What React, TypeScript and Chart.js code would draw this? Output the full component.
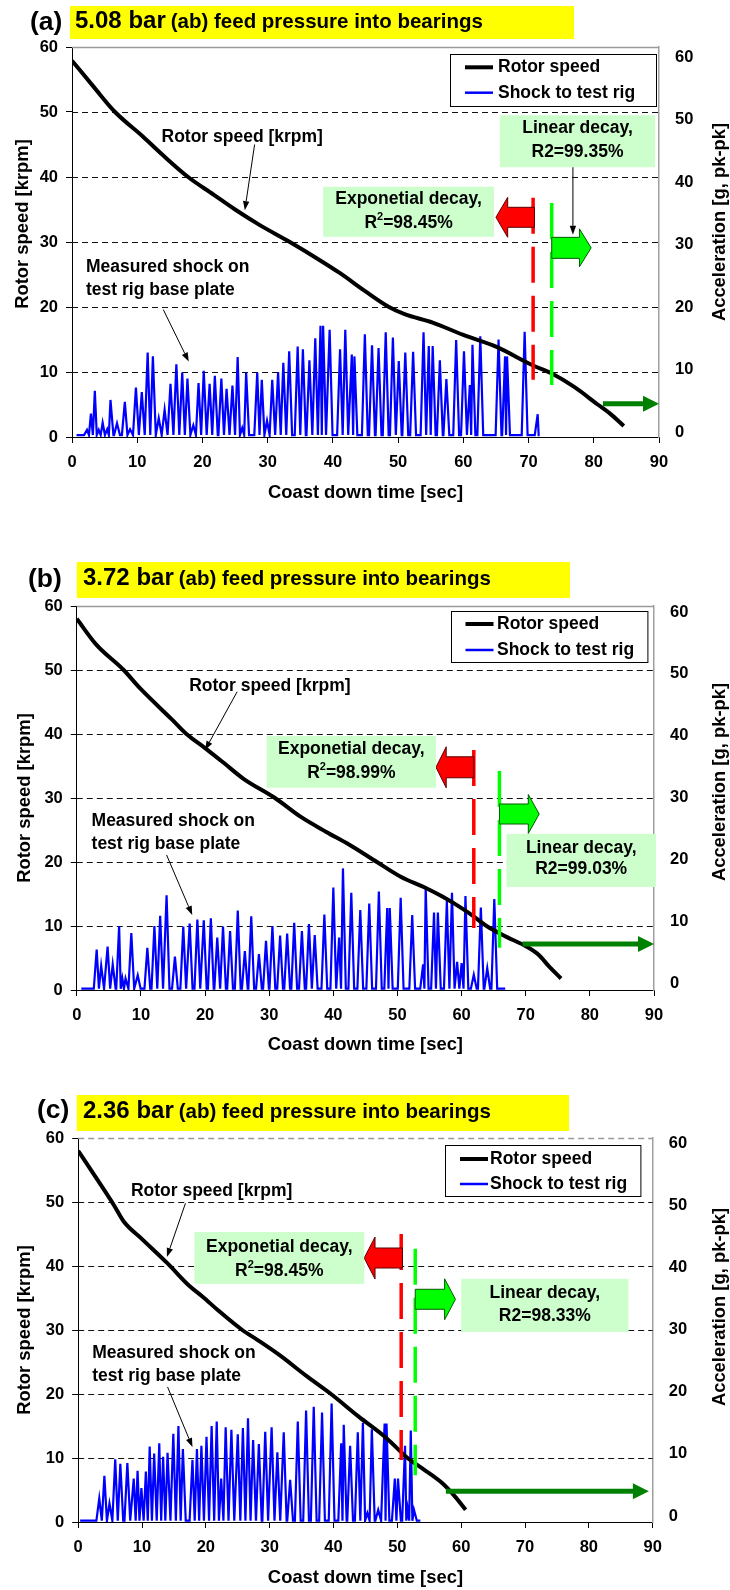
import React, { useEffect, useRef } from "react";
import { Chart, registerables } from "chart.js";
Chart.register(...registerables);

const FONT = "'Liberation Sans', Arial, Helvetica, sans-serif";

// ---------------- Axis ticks ----------------
const xTickValues = [0, 10, 20, 30, 40, 50, 60, 70, 80, 90];
const yTickValues = [0, 10, 20, 30, 40, 50, 60];

// ---------------- Text ----------------
const xAxisTitle = "Coast down time [sec]";
const yAxisTitle = "Rotor speed [krpm]";
const y1AxisTitle = "Acceleration [g, pk-pk]";
const legendLabels = ["Rotor speed", "Shock to test rig"];
const rotorNote = "Rotor speed [krpm]";
const shockNote = ["Measured shock on", "test rig base plate"];
const expNote = "Exponetial decay,";
const linNote = "Linear decay,";
const titleRest = "(ab) feed pressure into bearings";

// ---------------- Panel (a) 5.08 bar ----------------
const pressureA = "5.08 bar";
const rotorTimeA = [0, 3.3, 6.6, 10.9, 14, 17.8, 21.7, 25, 28.8, 33.4, 38, 41.1, 45, 48.6, 51, 55.3, 60, 65, 70.7, 73.5, 77, 80.6, 82.5, 84.6];
const rotorSpeedA = [57.9, 53.9, 50, 46.2, 43.3, 40, 37.3, 35, 32.6, 30, 27.2, 25.2, 22.4, 20, 18.9, 17.6, 15.7, 13.9, 11, 9.8, 7.7, 5, 3.6, 1.7];
const shockPeakTimeA = [2.3, 2.9, 3.5, 4.1, 4.7, 5.4, 5.9, 6.9, 8.1, 8.9, 9.8, 10.7, 11.6, 12.4, 13.3, 14.2, 15.1, 16.0, 16.9, 17.7, 18.6, 19.4, 20.2, 21.1, 21.9, 22.9, 23.7, 24.6, 25.4, 26.1, 26.7, 28.4, 29.1, 29.9, 30.7, 31.6, 32.4, 33.3, 34.6, 35.4, 36.4, 37.3, 38.1, 38.5, 39.5, 41.1, 41.9, 42.9, 43.3, 44.9, 46.0, 47.0, 48.1, 49.2, 50.1, 51.1, 52.3, 53.9, 54.7, 55.3, 56.4, 57.4, 58.9, 60.1, 61.0, 61.4, 62.6, 65.4, 66.4, 66.7, 69.4, 71.4];
const shockPeakValA = [1.1, 3.6, 7.1, 1.1, 2.2, 1.2, 5.7, 2.1, 5.4, 1.2, 7.6, 6.9, 13, 12.4, 2.9, 4.2, 8.2, 11.2, 9.9, 9.0, 1.8, 8.3, 10.2, 8.2, 9.4, 9.0, 7.4, 7.9, 12.3, 1.4, 9.9, 9.9, 8.8, 2.5, 8.8, 10, 11.4, 13.2, 13.9, 13.5, 11.8, 15.2, 17.1, 17.1, 16.5, 13.5, 16.5, 12.7, 12.4, 15.8, 14.1, 13.7, 16.1, 15.3, 11.7, 13.0, 13.1, 16.1, 14.0, 14.0, 11.8, 8.9, 14.9, 13.2, 8.0, 14.2, 15.5, 15.0, 12.4, 12.4, 16.2, 3.5];
const shockSpanA = [0.7, 71.7];
const shockBaseA = 0.3;
const expR2A = "98.45%";
const linR2A = "99.35%";

// ---------------- Panel (b) 3.72 bar ----------------
const pressureB = "3.72 bar";
const rotorTimeB = [0, 3, 7.3, 10, 14.9, 17.1, 20, 22.9, 26, 30.9, 35, 38.9, 42.5, 46.8, 50.5, 54.5, 57, 60, 61.6, 63.9, 67, 70.1, 72, 73.7, 75.5];
const rotorSpeedB = [58, 54, 50, 47, 42.2, 40, 37.8, 35.5, 33, 30, 27, 24.7, 22.7, 20, 17.7, 15.9, 14.6, 12.8, 11.7, 10, 8.3, 6.8, 5.5, 3.6, 1.8];
const shockPeakTimeB = [3.1, 3.8, 4.8, 5.6, 6.6, 7.1, 7.6, 8.5, 9.5, 11.0, 12.1, 13.0, 14.0, 15.3, 16.6, 17.6, 18.8, 19.8, 20.9, 21.9, 22.8, 23.9, 25.1, 26.2, 27.2, 28.4, 29.5, 30.5, 31.7, 32.8, 33.9, 35.1, 36.2, 37.1, 38.6, 40.0, 40.9, 41.5, 42.8, 44.2, 45.6, 47.1, 48.4, 48.8, 50.5, 52.3, 54.0, 54.4, 55.7, 56.3, 57.7, 58.5, 59.3, 60.0, 60.6, 61.9, 63.0, 64.0, 65.1];
const shockPeakValB = [6.3, 3.8, 6.8, 4.0, 10, 1.8, 1.8, 8.9, 2.3, 6.6, 10, 11.6, 14.8, 5.2, 9.9, 10.4, 11, 10.9, 11.2, 8.2, 9.9, 9.2, 12.4, 6.1, 11.5, 5.6, 7.7, 10, 8.5, 8.8, 10.5, 9.2, 10.3, 8.6, 11.8, 16, 8.2, 19, 15.2, 12.5, 13.5, 15.4, 12.8, 12.8, 14.4, 11.7, 4, 16, 12.1, 12.1, 13.9, 15.2, 4.4, 4.2, 14.7, 2.4, 12.9, 3.4, 14.2];
const shockSpanB = [0.7, 66.8];
const shockBaseB = 0.2;
const expR2B = "98.99%";
const linR2B = "99.03%";

// ---------------- Panel (c) 2.36 bar ----------------
const pressureC = "2.36 bar";
const rotorTimeC = [0, 3, 5.6, 7.1, 10, 14, 17.3, 19.5, 22, 25.7, 28, 31.5, 35.9, 39.6, 43.9, 48.3, 51.6, 54, 57.1, 59, 60.7];
const rotorSpeedC = [58, 53.5, 49.5, 47, 44.2, 40.4, 37, 35.2, 33, 30, 28.5, 26.1, 22.7, 20, 16.5, 13.1, 10, 8.3, 6, 4, 1.9];
const shockPeakTimeC = [3.3, 4.1, 4.9, 5.8, 6.6, 7.7, 8.7, 9.3, 9.9, 10.6, 11.2, 11.9, 12.7, 13.3, 14.0, 14.9, 15.7, 16.4, 17.9, 18.6, 19.3, 20.1, 20.9, 21.7, 22.4, 23.1, 24.0, 25.0, 25.8, 26.6, 27.4, 28.3, 29.3, 30.3, 31.2, 32.2, 33.2, 34.4, 35.7, 36.9, 38.2, 39.7, 41.2, 41.6, 42.6, 43.8, 44.6, 45.3, 46.0, 47.0, 48.0, 48.3, 49.6, 50.1, 51.2, 51.6, 52.1, 52.6];
const shockPeakValC = [3.7, 7.2, 2.9, 9.8, 9.1, 9.2, 6.8, 8.0, 5.3, 7.9, 11.8, 10.7, 12.3, 10.2, 10.8, 13.8, 15.0, 11.4, 9.7, 11.4, 11.9, 13.3, 15.0, 15.7, 6.8, 14.8, 14.4, 13.7, 14.7, 16.2, 12.8, 12.2, 14.1, 14.8, 10.9, 14.0, 6.6, 15.7, 17.4, 18.0, 17.1, 18.5, 12.3, 15.2, 11.9, 14.0, 15.5, 1.4, 14.5, 1.9, 15.4, 15.4, 6.8, 6.8, 11.9, 2.1, 14.3, 1.9];
const shockSpanC = [0.3, 53.6];
const shockBaseC = 0.2;
const expR2C = "98.45%";
const linR2C = "98.33%";

// ---------------- Build helpers ----------------
function buildShock(times: number[], vals: number[], span: number[], base: number) {
  const pts: { x: number; y: number }[] = [{ x: span[0], y: base }];
  for (let i = 0; i < times.length; i++) {
    const prev = i > 0 ? times[i - 1] : span[0];
    const next = i < times.length - 1 ? times[i + 1] : span[1];
    const wl = Math.min(0.45, (times[i] - prev) / 2);
    const wr = Math.min(0.45, (next - times[i]) / 2);
    pts.push({ x: times[i] - wl, y: base }, { x: times[i], y: vals[i] }, { x: times[i] + wr, y: base });
  }
  pts.push({ x: span[1], y: base });
  return pts;
}
function buildLine(t: number[], v: number[]) {
  return t.map((x, i) => ({ x, y: v[i] }));
}

// ---------------- Panel layouts (positions only) ----------------
const panels = [
  {
    key: "a", label: "(a)", pressure: pressureA, top: 0, height: 520,
    area: { left: 72, right: 659, top: 47, bottom: 437 },
    y1Range: [-0.8, 61.6], topDashed: false,
    titleBox: [70, 6, 574, 39], labelPos: [30, 29.5], mainPos: [75, 27.5],
    legend: { box: [450, 54, 656, 106], lx: [465, 493], ly: [67.3, 92.7], tx: 498 },
    xTitleY: 493, yTitle: [23, 224], y1Title: [720, 222],
    rotorT: rotorTimeA, rotorV: rotorSpeedA,
    shock: [shockPeakTimeA, shockPeakValA, shockSpanA, shockBaseA],
    expR2: expR2A, linR2: linR2A,
    ann: {
      rotorLabel: [26.1, 46.2], rotorArrow: [28.0, 45.0, 26.5, 34.9],
      shockLabel: [2.15, 26.2, 22.6], shockArrow: [14.0, 19.6, 17.9, 11.6],
      expBox: [38.5, 38.5, 64.7, 30.8], expLines: [36.6, 32.9],
      linBox: [65.6, 49.5, 89.4, 41.5], linLines: [47.5, 43.8],
      linArrow: [76.8, 41.5, 76.8, 31.1],
      red: { tip: 65.0, head: 66.8, end: 70.9, v: 33.8, hh: 20, sh: 10 },
      green: { tip: 79.6, head: 77.8, end: 73.55, v: 29.1, hh: 19, sh: 10.5 },
      redDash: [70.7, 36.8, 8.8], greenDash: [73.55, 36, 8],
      fall: [81.4, 90, 5.1],
    },
  },
  {
    key: "b", label: "(b)", pressure: pressureB, top: 520, height: 535,
    area: { left: 76.8, right: 654, top: 86, bottom: 470 },
    y1Range: [-1.13, 60.97], topDashed: false,
    titleBox: [76.8, 42, 570, 78], labelPos: [28, 66.5], mainPos: [83, 65],
    legend: { box: [450.6, 91, 647, 142], lx: [465.5, 493.5], ly: [104, 130], tx: 497 },
    xTitleY: 525, yTitle: [25, 278], y1Title: [720, 262],
    rotorT: rotorTimeB, rotorV: rotorSpeedB,
    shock: [shockPeakTimeB, shockPeakValB, shockSpanB, shockBaseB],
    expR2: expR2B, linR2: linR2B,
    ann: {
      rotorLabel: [30.1, 47.5], rotorArrow: [25.0, 46.6, 20.0, 37.5],
      shockLabel: [2.3, 26.4, 22.8], shockArrow: [14.0, 21.1, 18.0, 11.7],
      expBox: [29.6, 39.7, 56.0, 31.6], expLines: [37.7, 33.9],
      linBox: [67.0, 24.4, 90.3, 16.1], linLines: [22.2, 18.9],
      linArrow: null,
      red: { tip: 56.0, head: 57.6, end: 61.9, v: 34.8, hh: 20.5, sh: 10.5 },
      green: { tip: 72.1, head: 70.4, end: 65.9, v: 27.5, hh: 19.5, sh: 10 },
      redDash: [61.9, 37.5, 9.7], greenDash: [65.9, 34.2, 6.6],
      fall: [69.5, 90, 7.2],
    },
  },
  {
    key: "c", label: "(c)", pressure: pressureC, top: 1055, height: 535,
    area: { left: 78.2, right: 652.7, top: 83, bottom: 467 },
    y1Range: [-0.97, 60.8], topDashed: true,
    titleBox: [76.8, 40, 569, 76], labelPos: [37, 62.5], mainPos: [83, 63],
    legend: { box: [444.6, 90, 640, 141], lx: [460, 488], ly: [104, 129], tx: 490 },
    xTitleY: 523, yTitle: [25, 275], y1Title: [720, 252],
    rotorT: rotorTimeC, rotorV: rotorSpeedC,
    shock: [shockPeakTimeC, shockPeakValC, shockSpanC, shockBaseC],
    expR2: expR2C, linR2: linR2C,
    ann: {
      rotorLabel: [20.9, 51.7], rotorArrow: [16.8, 49.8, 13.9, 41.4],
      shockLabel: [2.2, 26.4, 22.8], shockArrow: [14.0, 21.1, 17.9, 11.7],
      expBox: [18.2, 45.3, 44.8, 37.2], expLines: [43.0, 39.2],
      linBox: [60.0, 38.0, 86.2, 29.7], linLines: [35.8, 32.2],
      linArrow: null,
      red: { tip: 44.8, head: 46.5, end: 50.8, v: 41.25, hh: 21, sh: 10 },
      green: { tip: 59.1, head: 57.4, end: 52.8, v: 34.8, hh: 20.5, sh: 10 },
      redDash: [50.6, 45, 9.7], greenDash: [52.8, 42.7, 7.3],
      fall: [57.6, 89.4, 4.8],
    },
  },
];

// ---------------- Drawing helpers ----------------
const f = (size: number, weight = "bold") => `${weight} ${size}px ${FONT}`;

function arrowLine(ctx: CanvasRenderingContext2D, x1: number, y1: number, x2: number, y2: number) {
  const ang = Math.atan2(y2 - y1, x2 - x1);
  const hl = 9, hw = 3.2;
  const bx = x2 - hl * Math.cos(ang), by = y2 - hl * Math.sin(ang);
  ctx.save();
  ctx.strokeStyle = "#000";
  ctx.fillStyle = "#000";
  ctx.lineWidth = 1;
  ctx.beginPath();
  ctx.moveTo(x1, y1);
  ctx.lineTo(bx, by);
  ctx.stroke();
  ctx.beginPath();
  ctx.moveTo(x2, y2);
  ctx.lineTo(bx + hw * Math.sin(ang), by - hw * Math.cos(ang));
  ctx.lineTo(bx - hw * Math.sin(ang), by + hw * Math.cos(ang));
  ctx.closePath();
  ctx.fill();
  ctx.restore();
}

function blockArrow(ctx: CanvasRenderingContext2D, tipX: number, headX: number, endX: number, cy: number, hh: number, sh: number, fill: string, stroke: string) {
  ctx.save();
  ctx.beginPath();
  ctx.moveTo(tipX, cy);
  ctx.lineTo(headX, cy - hh);
  ctx.lineTo(headX, cy - sh);
  ctx.lineTo(endX, cy - sh);
  ctx.lineTo(endX, cy + sh);
  ctx.lineTo(headX, cy + sh);
  ctx.lineTo(headX, cy + hh);
  ctx.closePath();
  ctx.fillStyle = fill;
  ctx.fill();
  ctx.strokeStyle = stroke;
  ctx.lineWidth = 1;
  ctx.stroke();
  ctx.restore();
}

function drawR2(ctx: CanvasRenderingContext2D, cx: number, cy: number, value: string) {
  ctx.save();
  ctx.fillStyle = "#000";
  ctx.textBaseline = "middle";
  ctx.textAlign = "left";
  ctx.font = f(17.5);
  const wR = ctx.measureText("R").width;
  const wRest = ctx.measureText("=" + value).width;
  ctx.font = f(11);
  const w2 = ctx.measureText("2").width;
  let x = cx - (wR + w2 + wRest) / 2;
  ctx.font = f(17.5);
  ctx.fillText("R", x, cy);
  x += wR;
  ctx.font = f(11);
  ctx.fillText("2", x, cy - 6);
  x += w2;
  ctx.font = f(17.5);
  ctx.fillText("=" + value, x, cy);
  ctx.restore();
}

function makeDecor(p: any) {
  return {
    id: "decor" + p.key,
    beforeDatasetsDraw(chart: any) {
      const { ctx, chartArea } = chart;
      const ys = chart.scales.y;
      ctx.save();
      ctx.lineWidth = 1;
      for (const v of yTickValues) {
        if (v === 0) continue;
        const y = Math.round(ys.getPixelForValue(v)) + 0.5;
        if (v === 60) {
          ctx.strokeStyle = "#9a9a9a";
          ctx.lineWidth = 1.5;
          ctx.setLineDash(p.topDashed ? [6, 4] : []);
        } else {
          ctx.strokeStyle = "#111";
          ctx.lineWidth = 1;
          ctx.setLineDash([6, 4]);
        }
        ctx.beginPath();
        ctx.moveTo(chartArea.left, y);
        ctx.lineTo(chartArea.right, y);
        ctx.stroke();
      }
      ctx.restore();
    },
    afterDatasetsDraw(chart: any) {
      const { ctx, chartArea } = chart;
      const xs = chart.scales.x, ys = chart.scales.y;
      const X = (t: number) => xs.getPixelForValue(t);
      const Y = (v: number) => ys.getPixelForValue(v);
      const a = p.ann;

      // dashed vertical separators
      ctx.save();
      ctx.lineWidth = 3.5;
      ctx.setLineDash([36, 13]);
      ctx.strokeStyle = "#FF0000";
      ctx.beginPath();
      ctx.moveTo(X(a.redDash[0]), Y(a.redDash[1]));
      ctx.lineTo(X(a.redDash[0]), Y(a.redDash[2]));
      ctx.stroke();
      ctx.strokeStyle = "#00FF00";
      ctx.beginPath();
      ctx.moveTo(X(a.greenDash[0]), Y(a.greenDash[1]));
      ctx.lineTo(X(a.greenDash[0]), Y(a.greenDash[2]));
      ctx.stroke();
      ctx.restore();

      // block arrows
      blockArrow(ctx, X(a.red.tip), X(a.red.head), X(a.red.end), Y(a.red.v), a.red.hh, a.red.sh, "#FF0000", "#5a0000");
      blockArrow(ctx, X(a.green.tip), X(a.green.head), X(a.green.end), Y(a.green.v), a.green.hh, a.green.sh, "#00FF00", "#005a00");

      // dark green horizontal arrow
      {
        const x1 = X(a.fall[0]), x2 = X(a.fall[1]), y = Y(a.fall[2]);
        ctx.save();
        ctx.strokeStyle = "#008000";
        ctx.fillStyle = "#008000";
        ctx.lineWidth = 5;
        ctx.beginPath();
        ctx.moveTo(x1, y);
        ctx.lineTo(x2 - 14, y);
        ctx.stroke();
        ctx.beginPath();
        ctx.moveTo(x2, y);
        ctx.lineTo(x2 - 16, y - 8);
        ctx.lineTo(x2 - 16, y + 8);
        ctx.closePath();
        ctx.fill();
        ctx.restore();
      }

      // green note boxes
      ctx.save();
      ctx.fillStyle = "#CCFFCC";
      const eb = a.expBox, lb = a.linBox;
      ctx.fillRect(X(eb[0]), Y(eb[1]), X(eb[2]) - X(eb[0]), Y(eb[3]) - Y(eb[1]));
      ctx.fillRect(X(lb[0]), Y(lb[1]), X(lb[2]) - X(lb[0]), Y(lb[3]) - Y(lb[1]));
      ctx.fillStyle = "#000";
      ctx.font = f(17.5);
      ctx.textAlign = "center";
      ctx.textBaseline = "middle";
      const ecx = (X(eb[0]) + X(eb[2])) / 2;
      ctx.fillText(expNote, ecx, Y(a.expLines[0]));
      drawR2(ctx, ecx, Y(a.expLines[1]), p.expR2);
      const lcx = (X(lb[0]) + X(lb[2])) / 2;
      ctx.font = f(17.5);
      ctx.fillText(linNote, lcx, Y(a.linLines[0]));
      ctx.fillText("R2=" + p.linR2, lcx, Y(a.linLines[1]));

      // rotor & shock notes
      ctx.fillText(rotorNote, X(a.rotorLabel[0]), Y(a.rotorLabel[1]));
      ctx.textAlign = "left";
      ctx.fillText(shockNote[0], X(a.shockLabel[0]), Y(a.shockLabel[1]));
      ctx.fillText(shockNote[1], X(a.shockLabel[0]), Y(a.shockLabel[2]));
      ctx.restore();

      const ra = a.rotorArrow, sa = a.shockArrow;
      arrowLine(ctx, X(ra[0]), Y(ra[1]), X(ra[2]), Y(ra[3]));
      arrowLine(ctx, X(sa[0]), Y(sa[1]), X(sa[2]), Y(sa[3]));
      if (a.linArrow) {
        const la = a.linArrow;
        arrowLine(ctx, X(la[0]), Y(la[1]), X(la[2]), Y(la[3]));
      }

      // legend
      const lg = p.legend;
      ctx.save();
      ctx.fillStyle = "#fff";
      ctx.fillRect(lg.box[0], lg.box[1], lg.box[2] - lg.box[0], lg.box[3] - lg.box[1]);
      ctx.strokeStyle = "#000";
      ctx.lineWidth = 1;
      ctx.strokeRect(Math.round(lg.box[0]) + 0.5, Math.round(lg.box[1]) + 0.5, lg.box[2] - lg.box[0], lg.box[3] - lg.box[1]);
      ctx.lineCap = "butt";
      ctx.strokeStyle = "#000";
      ctx.lineWidth = 4;
      ctx.beginPath();
      ctx.moveTo(lg.lx[0], lg.ly[0]);
      ctx.lineTo(lg.lx[1], lg.ly[0]);
      ctx.stroke();
      ctx.strokeStyle = "#0000FF";
      ctx.lineWidth = 2.5;
      ctx.beginPath();
      ctx.moveTo(lg.lx[0], lg.ly[1]);
      ctx.lineTo(lg.lx[1], lg.ly[1]);
      ctx.stroke();
      ctx.fillStyle = "#000";
      ctx.font = f(17.5);
      ctx.textAlign = "left";
      ctx.textBaseline = "middle";
      ctx.fillText(legendLabels[0], lg.tx, lg.ly[0]);
      ctx.fillText(legendLabels[1], lg.tx, lg.ly[1]);
      ctx.restore();

      // title bar
      ctx.save();
      const tb = p.titleBox;
      ctx.fillStyle = "#FFFF00";
      ctx.fillRect(tb[0], tb[1], tb[2] - tb[0], tb[3] - tb[1]);
      ctx.fillStyle = "#000";
      ctx.textAlign = "left";
      ctx.textBaseline = "alphabetic";
      ctx.font = f(26.5);
      ctx.fillText(p.label, p.labelPos[0], p.labelPos[1]);
      ctx.font = f(24);
      ctx.fillText(p.pressure, p.mainPos[0], p.mainPos[1]);
      const w = ctx.measureText(p.pressure).width;
      ctx.font = f(20.5);
      ctx.fillText(titleRest, p.mainPos[0] + w + 5, p.mainPos[1]);

      // axis titles
      ctx.font = f(18.4);
      ctx.textAlign = "center";
      ctx.textBaseline = "middle";
      ctx.fillText(xAxisTitle, (chartArea.left + chartArea.right) / 2, p.xTitleY);
      ctx.save();
      ctx.translate(p.yTitle[0], p.yTitle[1]);
      ctx.rotate(-Math.PI / 2);
      ctx.fillText(yAxisTitle, 0, 0);
      ctx.restore();
      ctx.save();
      ctx.translate(p.y1Title[0], p.y1Title[1]);
      ctx.rotate(-Math.PI / 2);
      ctx.fillText(y1AxisTitle, 0, 0);
      ctx.restore();
      ctx.restore();
    },
  };
}

function Panel({ p }: { p: any }) {
  const ref = useRef<HTMLCanvasElement>(null);
  useEffect(() => {
    const canvas = ref.current;
    if (!canvas) return;
    const tickFont = { family: FONT, size: 16.5, weight: "bold" as const };
    const y1W = 50;
    const chart = new Chart(canvas, {
      type: "line",
      data: {
        datasets: [
          {
            label: legendLabels[0],
            data: buildLine(p.rotorT, p.rotorV),
            borderColor: "#000000",
            borderWidth: 4,
            pointRadius: 0,
            cubicInterpolationMode: "monotone",
            yAxisID: "y",
          },
          {
            label: legendLabels[1],
            data: buildShock(p.shock[0], p.shock[1], p.shock[2], p.shock[3]),
            borderColor: "#0000FF",
            borderWidth: 2.2,
            pointRadius: 0,
            tension: 0,
            yAxisID: "y",
          },
        ],
      },
      options: {
        responsive: false,
        animation: false,
        devicePixelRatio: 1,
        parsing: false,
        layout: {
          padding: { left: 0, top: p.area.top, right: 730 - p.area.right - y1W, bottom: 0 },
        },
        plugins: { legend: { display: false }, tooltip: { enabled: false } },
        scales: {
          x: {
            type: "linear",
            position: "bottom",
            min: 0,
            max: 90,
            afterBuildTicks: (s: any) => { s.ticks = xTickValues.map((value) => ({ value })); },
            ticks: { color: "#000", font: tickFont, padding: 10, maxRotation: 0, autoSkip: false },
            grid: { drawOnChartArea: false, drawTicks: true, tickLength: 6, color: "#000" },
            border: { color: "#000", width: 1 },
            afterFit: (s: any) => { s.height = p.height - p.area.bottom; },
          },
          y: {
            type: "linear",
            position: "left",
            min: 0,
            max: 60,
            afterBuildTicks: (s: any) => { s.ticks = yTickValues.map((value) => ({ value })); },
            ticks: { color: "#000", font: tickFont, padding: 8 },
            grid: { drawOnChartArea: false, drawTicks: true, tickLength: 6, color: "#000" },
            border: { color: "#000", width: 1 },
            afterFit: (s: any) => { s.width = p.area.left; },
          },
          y1: {
            type: "linear",
            position: "right",
            min: p.y1Range[0],
            max: p.y1Range[1],
            afterBuildTicks: (s: any) => { s.ticks = yTickValues.map((value) => ({ value })); },
            ticks: { color: "#000", font: tickFont, padding: 16 },
            grid: { display: false, drawOnChartArea: false, drawTicks: false },
            border: { color: "#A0A0A0", width: 1.5 },
            afterFit: (s: any) => { s.width = y1W; },
          },
        },
      },
      plugins: [makeDecor(p)],
    } as any);
    return () => chart.destroy();
  }, [p]);
  return (
    <canvas
      ref={ref}
      width={730}
      height={p.height}
      style={{ position: "absolute", left: 0, top: p.top, width: 730, height: p.height, display: "block" }}
    />
  );
}

export default function App() {
  useEffect(() => {
    document.body.style.margin = "0";
    document.documentElement.style.overflow = "hidden";
  }, []);
  return (
    <div style={{ position: "absolute", left: 0, top: 0, width: 730, height: 1590, background: "#fff", overflow: "hidden" }}>
      {panels.map((p) => (
        <Panel key={p.key} p={p} />
      ))}
    </div>
  );
}
